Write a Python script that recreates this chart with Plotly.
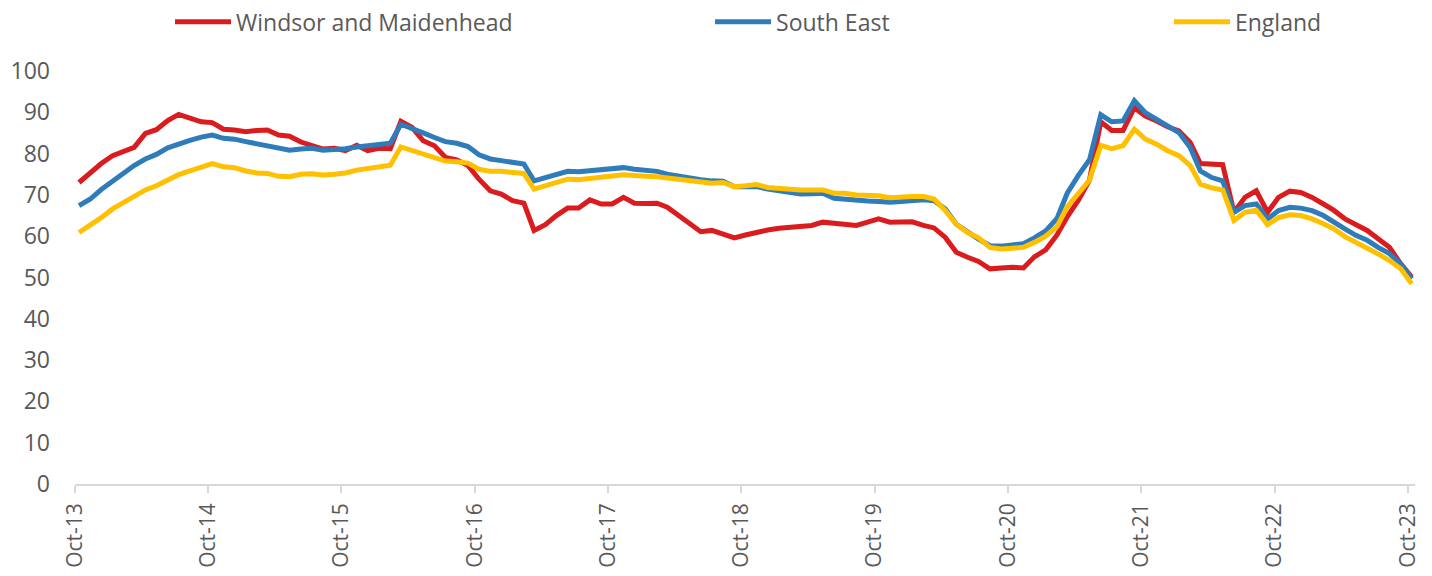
import pandas as pd
import plotly.graph_objects as go

# Monthly index values, Oct-13 .. Oct-23 (121 months)
months = pd.date_range("2013-10-01", periods=121, freq="MS") + pd.Timedelta(days=11)

windsor = [
    73.0, 75.5, 77.6, 79.5, 80.7, 81.5, 84.9, 85.8, 88.0, 89.5, 88.6, 87.7,
    87.5, 85.9, 85.7, 85.3, 85.6, 85.7, 84.5, 84.2, 82.8, 82.1, 81.1, 81.3,
    80.7, 82.0, 80.7, 81.3, 81.2, 87.8, 86.3, 83.1, 81.9, 79.1, 78.5, 77.1,
    73.8, 71.0, 70.2, 68.6, 68.0, 61.4, 62.8, 65.0, 66.8, 66.8, 68.8, 67.8,
    67.8, 69.4, 68.0, 67.9, 68.0, 67.0, 65.0, 63.1, 61.1, 61.4, 60.4, 59.6,
    60.3, 61.0, 61.5, 61.9, 62.1, 62.4, 62.6, 63.4, 63.1, 63.0, 62.6, 63.4,
    64.2, 63.4, 63.4, 63.5, 62.6, 62.0, 59.7, 56.1, 54.9, 53.9, 52.1, 52.3,
    52.5, 52.3, 55.0, 56.7, 60.3, 64.7, 68.8, 73.6, 87.7, 85.6, 85.6, 91.1,
    89.1, 87.9, 86.5, 85.5, 82.7, 77.6, 77.3, 77.3, 65.8, 69.4, 71.0, 65.8,
    69.4, 70.9, 70.6, 69.4, 67.8, 66.3, 64.2, 62.9, 61.4, 59.4, 57.3, 53.3,
    50.1,
]

south_east = [
    67.4, 69.0, 71.3, 73.4, 75.3, 77.1, 78.7, 79.8, 81.4, 82.4, 83.2, 84.0,
    84.5, 83.7, 83.5, 82.9, 82.4, 81.9, 81.2, 80.8, 81.1, 81.3, 80.8, 80.9,
    81.2, 81.6, 81.8, 82.0, 82.5, 87.1, 85.9, 85.0, 83.9, 82.9, 82.5, 81.7,
    79.7, 78.7, 78.3, 77.9, 77.5, 73.4, 74.2, 75.0, 75.7, 75.6, 75.8, 76.0,
    76.4, 76.6, 76.2, 76.0, 75.7, 75.0, 74.5, 74.2, 73.7, 73.4, 73.3, 72.0,
    71.9, 72.0, 71.4, 70.9, 70.6, 70.2, 70.3, 70.4, 69.2, 68.9, 68.6, 68.5,
    68.4, 68.2, 68.4, 68.6, 68.8, 68.6, 66.6, 62.9, 60.9, 59.3, 57.7, 57.6,
    57.9, 58.2, 59.6, 61.3, 64.3, 70.4, 74.8, 78.5, 89.4, 87.7, 87.9, 92.8,
    89.9, 88.3, 86.7, 85.1, 81.5, 75.8, 74.2, 73.4, 65.8, 67.4, 67.8, 64.2,
    66.2, 67.0, 66.8, 66.2, 65.0, 63.6, 61.8, 60.2, 59.0, 57.3, 55.8, 53.3,
    49.7,
]

england = [
    60.9, 62.7, 64.5, 66.6, 68.2, 69.4, 71.2, 72.2, 73.6, 74.9, 75.8, 76.8,
    77.6, 76.8, 76.6, 75.8, 75.3, 75.2, 74.5, 74.4, 75.0, 75.1, 74.8, 75.0,
    75.3, 76.0, 76.3, 76.6, 77.2, 81.6, 80.8, 79.9, 79.2, 78.2, 78.0, 77.7,
    76.2, 75.7, 75.7, 75.5, 75.2, 71.4, 72.2, 73.0, 73.8, 73.7, 74.1, 74.2,
    74.6, 74.9, 74.6, 74.5, 74.4, 74.1, 73.6, 73.4, 73.0, 72.8, 73.0, 72.0,
    72.2, 72.5, 71.8, 71.5, 71.3, 71.2, 71.2, 71.2, 70.4, 70.4, 70.0, 69.9,
    69.8, 69.3, 69.5, 69.6, 69.6, 69.0, 66.2, 62.9, 60.9, 59.6, 57.3, 56.9,
    57.1, 57.3, 58.5, 60.0, 62.3, 67.1, 70.4, 73.6, 82.0, 81.2, 81.9, 85.9,
    83.5, 82.3, 80.7, 79.5, 77.1, 72.6, 71.7, 71.2, 63.8, 65.8, 66.3, 62.8,
    64.5, 65.2, 65.0, 64.2, 63.0, 61.8, 59.9, 58.5, 57.3, 55.7, 54.1, 52.1,
    48.5,
]

tick_dates = pd.date_range("2013-10-01", "2023-10-01", freq="12MS")
tick_labels = ["Oct-13", "Oct-14", "Oct-15", "Oct-16", "Oct-17", "Oct-18",
               "Oct-19", "Oct-20", "Oct-21", "Oct-22", "Oct-23"]
y_ticks = [0, 10, 20, 30, 40, 50, 60, 70, 80, 90, 100]

FONT = "Open Sans, Noto Sans, sans-serif"
GREY = "#595959"

fig = go.Figure()
fig.add_trace(go.Scatter(x=months, y=windsor, mode="lines", name="Windsor and Maidenhead",
                         line=dict(color="#DA1C1F", width=5), legend="legend"))
fig.add_trace(go.Scatter(x=months, y=south_east, mode="lines", name="South East",
                         line=dict(color="#2E7DBA", width=5), legend="legend2"))
fig.add_trace(go.Scatter(x=months, y=england, mode="lines", name="England",
                         line=dict(color="#FFC000", width=5), legend="legend3"))

leg_common = dict(orientation="h", yanchor="middle", xanchor="left", y=1.119,
                  itemwidth=56,
                  font=dict(family=FONT, size=23, color=GREY),
                  bgcolor="rgba(0,0,0,0)", borderwidth=0)

# the page body has an 8px margin, so the figure is sized to fit the 1432x576 window
fig.update_layout(
    width=1424, height=568,
    margin=dict(l=67, r=17, t=63, b=92, autoexpand=False),
    paper_bgcolor="white", plot_bgcolor="white",
    font=dict(family=FONT, size=23, color=GREY),
    showlegend=True,
    legend=dict(x=0.0709, **leg_common),
    legend2=dict(x=0.4739, **leg_common),
    legend3=dict(x=0.8164, **leg_common),
    xaxis=dict(
        type="date", automargin=False,
        range=["2013-10-01", "2023-10-21"],
        tickmode="array", tickvals=tick_dates, ticktext=tick_labels,
        tickangle=-90, ticks="outside", ticklen=7, tickwidth=1.5, tickcolor="#D9D9D9",
        showline=True, linecolor="#D9D9D9", linewidth=1.5,
        showgrid=False, zeroline=False,
        tickfont=dict(family=FONT, size=21, color=GREY),
        ticklabelstandoff=2,
    ),
    yaxis=dict(
        automargin=False,
        range=[0, 100], tickmode="array", tickvals=y_ticks,
        showgrid=False, zeroline=False, showline=False, ticks="",
        tickfont=dict(family=FONT, size=23, color=GREY),
        ticklabelstandoff=24,
    ),
)

fig.write_html("out.html")
